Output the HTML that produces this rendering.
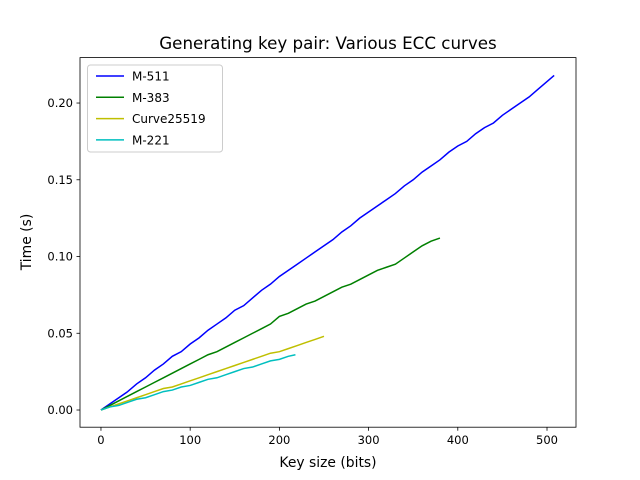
<!DOCTYPE html>
<html><head><meta charset="utf-8"><style>
body{margin:0;background:#fff;}
svg{display:block;font-family:"DejaVu Sans","Liberation Sans",sans-serif;}
</style></head><body>
<svg id="chart" width="640" height="480">
<rect width="640" height="480" fill="#fff"/>
<text x="328" y="49" text-anchor="middle" font-size="16.7">Generating key pair: Various ECC curves</text>
<g id="plot"></g>
<text x="328" y="467" text-anchor="middle" font-size="13.9">Key size (bits)</text>
<text transform="translate(31,242) rotate(-90)" text-anchor="middle" font-size="13.9">Time (s)</text>
</svg>
<script>
const xTicks=[0,100,200,300,400,500];
const yTicks=[0.00,0.05,0.10,0.15,0.20];
const yTickLabels=["0.00","0.05","0.10","0.15","0.20"];
const seriesNames=["M-511","M-383","Curve25519","M-221"];
const m511=[0,0.004,0.008,0.012,0.017,0.021,0.026,0.030,0.035,0.038,0.043,0.047,0.052,0.056,0.060,0.065,0.068,0.073,0.078,0.082,0.087,0.091,0.095,0.099,0.103,0.107,0.111,0.116,0.120,0.125,0.129,0.133,0.137,0.141,0.146,0.150,0.155,0.159,0.163,0.168,0.172,0.175,0.180,0.184,0.187,0.192,0.196,0.200,0.204,0.209,0.214,0.218];
const m383=[0,0.003,0.006,0.009,0.012,0.015,0.018,0.021,0.024,0.027,0.030,0.033,0.036,0.038,0.041,0.044,0.047,0.050,0.053,0.056,0.061,0.063,0.066,0.069,0.071,0.074,0.077,0.080,0.082,0.085,0.088,0.091,0.093,0.095,0.099,0.103,0.107,0.110,0.112];
const c25519=[0,0.002,0.004,0.006,0.008,0.010,0.012,0.014,0.015,0.017,0.019,0.021,0.023,0.025,0.027,0.029,0.031,0.033,0.035,0.037,0.038,0.040,0.042,0.044,0.046,0.048];
const m221=[0,0.002,0.003,0.005,0.007,0.008,0.010,0.012,0.013,0.015,0.016,0.018,0.020,0.021,0.023,0.025,0.027,0.028,0.030,0.032,0.033,0.035,0.036];
const xStep=10;
const L=80,R=576,T=57.6,B=427.2;
const xMin=-23.5,xMax=532.5,yMin=-0.0112,yMax=0.2296;
const sx=v=>L+(v-xMin)/(xMax-xMin)*(R-L);
const sy=v=>B-(v-yMin)/(yMax-yMin)*(B-T);
const NS="http://www.w3.org/2000/svg";
const g=document.getElementById('plot');
function mk(t,a){const e=document.createElementNS(NS,t);for(const k in a)e.setAttribute(k,a[k]);g.appendChild(e);return e;}
const colors=["#0000ff","#008000","#bfbf00","#00bfbf"];
const series=[m511,m383,c25519,m221];
series.forEach((s,i)=>{
  const lastX=[508,380,252,218][i];
  const pts=s.map((v,j)=>sx(Math.min(j*xStep,lastX))+","+sy(v)).join(" ");
  const p=mk('polyline',{points:pts,fill:"none",stroke:colors[i],"stroke-width":1.5});
  
  
});
const frame=mk('rect',{x:L,y:T,width:R-L,height:B-T,fill:"none",stroke:"#000","stroke-width":0.8});


xTicks.forEach(v=>{
  const x=sx(v);
  mk('line',{x1:x,x2:x,y1:B,y2:B+3.5,stroke:"#000","stroke-width":0.8});
  const t=mk('text',{x:x,y:B+17,"text-anchor":"middle","font-size":"11.5"});
  t.textContent=v;
  
  
});
yTicks.forEach((v,i)=>{
  const y=sy(v);
  mk('line',{x1:L-3.5,x2:L,y1:y,y2:y,stroke:"#000","stroke-width":0.8});
  const t=mk('text',{x:L-7,y:y+4,"text-anchor":"end","font-size":"11.5"});
  t.textContent=yTickLabels[i];
  
  
});
const lg=mk('rect',{x:87.5,y:65,width:135,height:87,rx:3,fill:"#fff",stroke:"#ccc","stroke-width":1});


seriesNames.forEach((n,i)=>{
  const y=76+i*21.3;
  const l=mk('line',{x1:96,x2:124,y1:y,y2:y,stroke:colors[i],"stroke-width":1.5});
  
  
  const t=mk('text',{x:132,y:y+4.5,"font-size":"12"});
  t.textContent=n;
  
  
});
</script>
</body></html>
